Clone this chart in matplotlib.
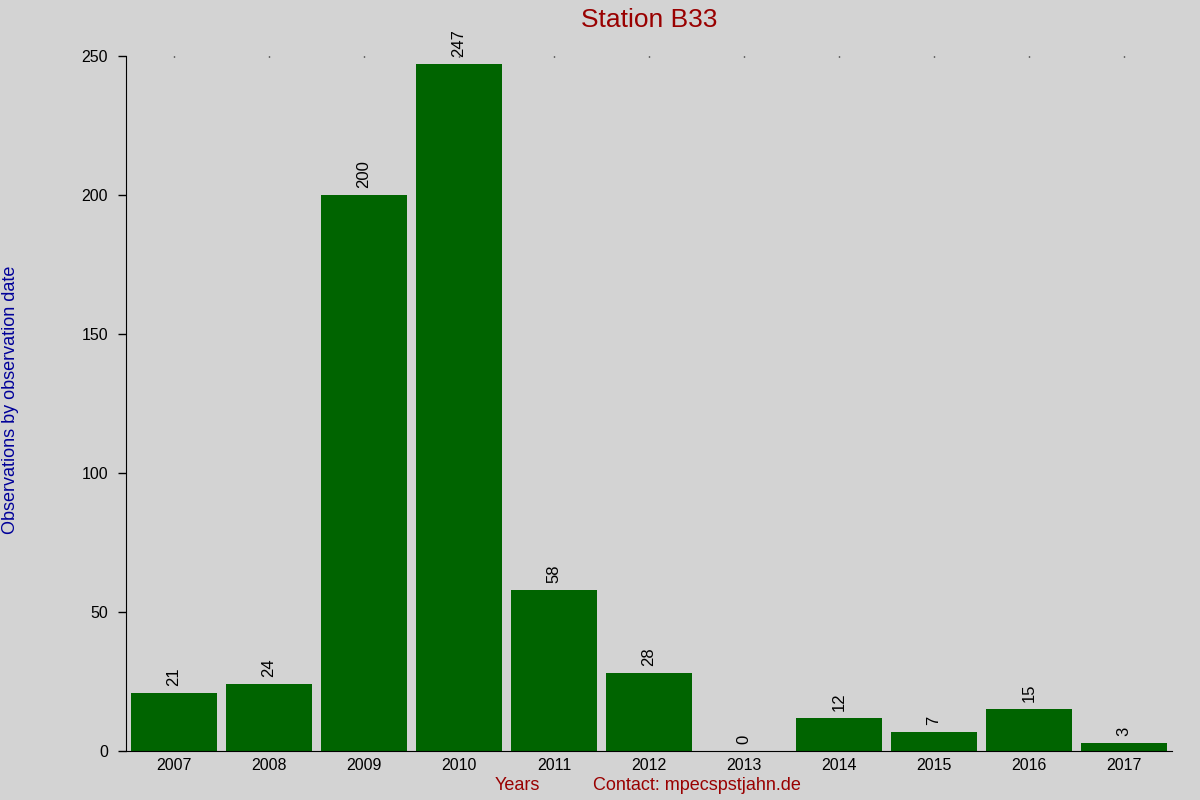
import matplotlib
matplotlib.use("Agg")
import matplotlib.pyplot as plt

years = ["2007", "2008", "2009", "2010", "2011", "2012", "2013", "2014", "2015", "2016", "2017"]
counts = [21, 24, 200, 247, 58, 28, 0, 12, 7, 15, 3]
yticks = [0, 50, 100, 150, 200, 250]

plt.rcParams['font.family'] = ['Liberation Sans', 'DejaVu Sans']

fig = plt.figure(figsize=(12, 8), dpi=100, facecolor='#d3d3d3')
ax = fig.add_axes([126/1200, 1 - 751/800, (1172 - 126)/1200, (751 - 56)/800])
ax.set_facecolor('#d3d3d3')

x = list(range(len(years)))
bars = ax.bar(x, counts, width=0.905, color='#006400')
for xi, v in zip(x, counts):
    ax.annotate(str(v), (xi, v), xytext=(0, 5), textcoords='offset points',
                rotation=90, ha='center', va='bottom', fontsize=12, color='black')

ax.set_xlim(-0.505, 10.505)
ax.set_ylim(0, 250)
ax.set_xticks(x)
ax.set_xticklabels(years, fontsize=11.5)
ax.set_yticks(yticks)
ax.set_yticklabels([str(t) for t in yticks], fontsize=11.5)

for s in ['top', 'right']:
    ax.spines[s].set_visible(False)
ax.spines['left'].set_color('black')
ax.spines['bottom'].set_color('black')

ax.tick_params(axis='y', direction='out', length=6, width=1, pad=7)
ax.tick_params(axis='x', bottom=False, top=True, direction='in', length=1, width=1, pad=5)

ax.set_title("Station B33", color='#990000', fontsize=19, pad=21)
fig.text(11/1200, 1 - 400/800, "Observations by observation date", rotation=90,
         ha='center', va='center', color='#000099', fontsize=13)
fig.text(517/1200, 1 - 786/800, "Years", ha='center', va='center', color='#990000', fontsize=13)
fig.text(697/1200, 1 - 786/800, "Contact: mpecspstjahn.de", ha='center', va='center', color='#990000', fontsize=13)

fig.savefig("out.png", dpi=100, facecolor=fig.get_facecolor())
